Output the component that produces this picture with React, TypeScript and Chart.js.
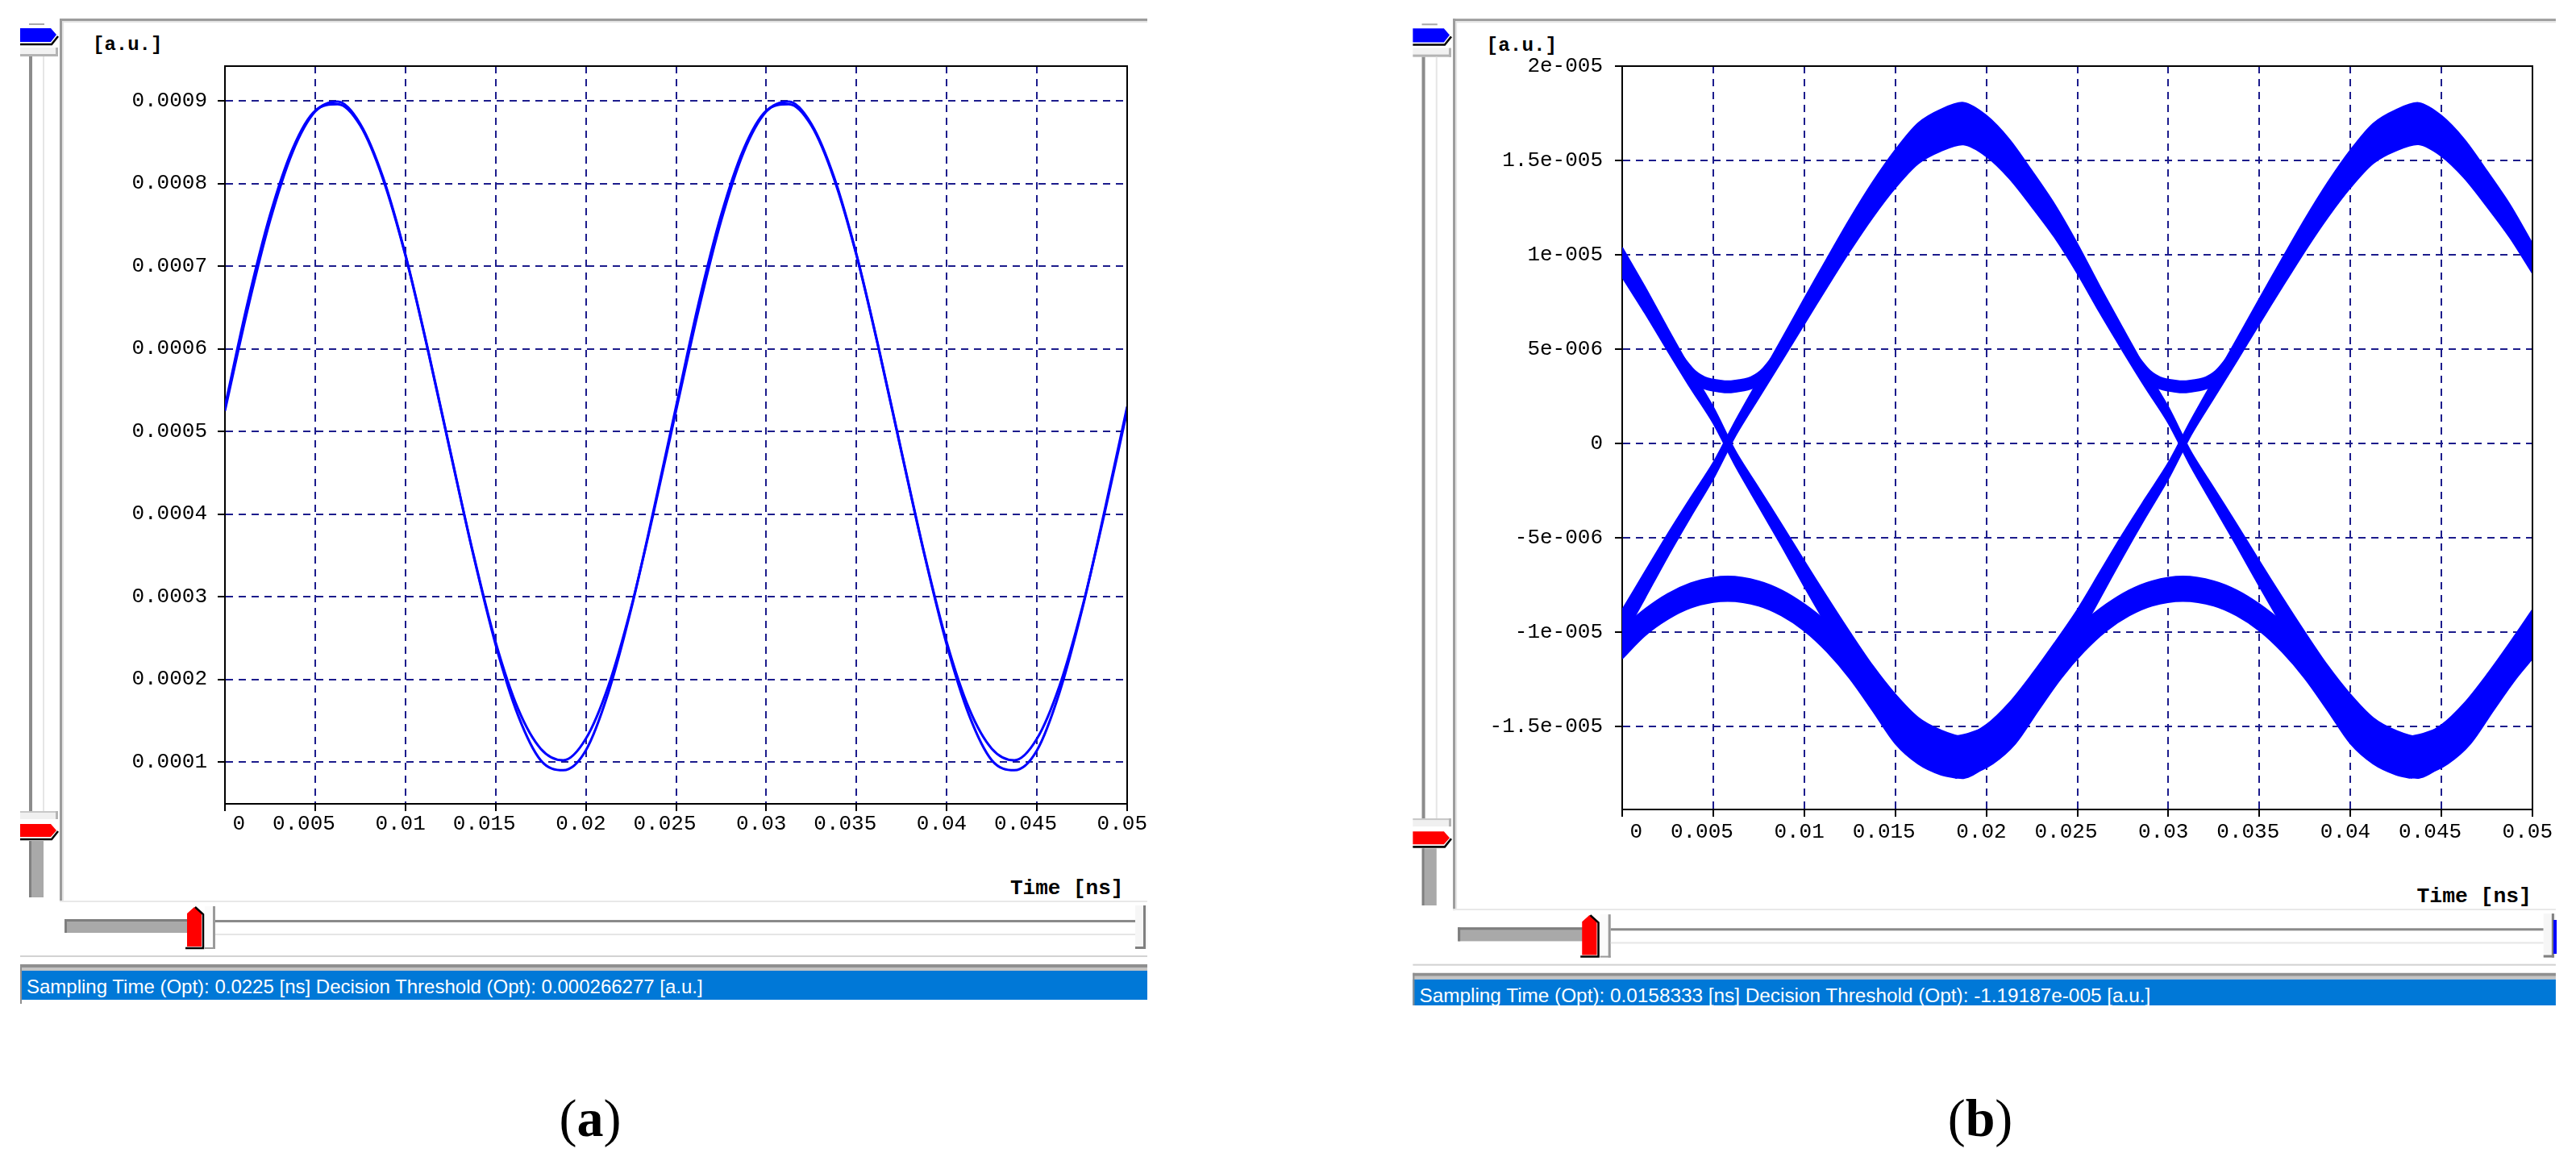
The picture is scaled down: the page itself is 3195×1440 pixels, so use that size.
import React, { useEffect, useRef } from 'react';
import { Chart, registerables } from 'chart.js';

Chart.register(...registerables);

// ---------- shared x axis ----------
const xTicks = [0, 0.005, 0.01, 0.015, 0.02, 0.025, 0.03, 0.035, 0.04, 0.045, 0.05];
const xTickLabels = ['0', '0.005', '0.01', '0.015', '0.02', '0.025', '0.03', '0.035', '0.04', '0.045', '0.05'];

// ---------- panel (a) ----------
const timeA = [0, 0.00125, 0.0025, 0.00375, 0.005, 0.00625, 0.0075, 0.00875, 0.01, 0.01125, 0.0125, 0.01375, 0.015, 0.01625, 0.0175, 0.01875, 0.02, 0.02125, 0.0225, 0.02375, 0.025, 0.02625, 0.0275, 0.02875, 0.03, 0.03125, 0.0325, 0.03375, 0.035, 0.03625, 0.0375, 0.03875, 0.04, 0.04125, 0.0425, 0.04375, 0.045, 0.04625, 0.0475, 0.04875, 0.05];
const traceA1 = [0.000525, 0.000647, 0.000755, 0.000838, 0.000887, 0.000899, 0.000872, 0.000808, 0.000714, 0.000599, 0.000475, 0.000353, 0.000245, 0.000164, 0.000116, 0.000102, 0.000128, 0.000192, 0.000286, 0.000401, 0.000525, 0.000647, 0.000755, 0.000838, 0.000887, 0.000899, 0.000872, 0.000808, 0.000714, 0.000599, 0.000475, 0.000353, 0.000245, 0.000164, 0.000116, 0.000102, 0.000128, 0.000192, 0.000286, 0.000401, 0.000525];
const traceA2 = [0.00053, 0.000655, 0.000762, 0.000842, 0.000888, 0.000896, 0.00087, 0.000806, 0.000713, 0.000598, 0.000474, 0.000352, 0.000242, 0.000156, 0.000102, 0.00009, 0.000114, 0.000184, 0.000284, 0.000404, 0.00053, 0.000655, 0.000762, 0.000842, 0.000888, 0.000896, 0.00087, 0.000806, 0.000713, 0.000598, 0.000474, 0.000352, 0.000242, 0.000156, 0.000102, 0.00009, 0.000114, 0.000184, 0.000284, 0.000404, 0.00053];
const yTicksA = [0.0001, 0.0002, 0.0003, 0.0004, 0.0005, 0.0006, 0.0007, 0.0008, 0.0009];
const yTickLabelsA = ['0.0001', '0.0002', '0.0003', '0.0004', '0.0005', '0.0006', '0.0007', '0.0008', '0.0009'];
const yRangeA = [0.0000493, 0.000942];

// ---------- panel (b) ----------
const timeB = [0, 0.00125, 0.0025, 0.00375, 0.005, 0.00625, 0.0075, 0.00875, 0.01, 0.01125, 0.0125, 0.01375, 0.015, 0.01625, 0.0175, 0.01875, 0.02, 0.02125, 0.0225, 0.02375, 0.025, 0.02625, 0.0275, 0.02875, 0.03, 0.03125, 0.0325, 0.03375, 0.035, 0.03625, 0.0375, 0.03875, 0.04, 0.04125, 0.0425, 0.04375, 0.045, 0.04625, 0.0475, 0.04875, 0.05];
const risingBand = [-9.6e-6, -7.5e-6, -5.4e-6, -3.4e-6, -1.45e-6, 0.85e-6, 2.9e-6, 4.93e-6, 7.0e-6, 9.04e-6, 11.04e-6, 12.9e-6, 14.55e-6, 15.9e-6, 16.6e-6, 16.95e-6, 16.3e-6, 15.1e-6, 13.5e-6, 11.8e-6, 9.8e-6, 7.6e-6, 5.5e-6, 3.45e-6, 1.5e-6, -0.85e-6, -2.85e-6, -4.85e-6, -6.9e-6, -8.9e-6, -10.85e-6, -12.7e-6, -14.3e-6, -15.6e-6, -16.3e-6, -16.63e-6, -16.0e-6, -14.8e-6, -13.2e-6, -11.45e-6, -9.6e-6];
const fallingBand = [9.6e-6, 7.6e-6, 5.5e-6, 3.45e-6, 1.5e-6, -0.85e-6, -2.85e-6, -4.85e-6, -6.9e-6, -8.9e-6, -10.85e-6, -12.7e-6, -14.3e-6, -15.6e-6, -16.3e-6, -16.63e-6, -16.0e-6, -14.8e-6, -13.2e-6, -11.45e-6, -9.6e-6, -7.5e-6, -5.4e-6, -3.4e-6, -1.45e-6, 0.85e-6, 2.9e-6, 4.93e-6, 7.0e-6, 9.04e-6, 11.04e-6, 12.9e-6, 14.55e-6, 15.9e-6, 16.6e-6, 16.95e-6, 16.3e-6, 15.1e-6, 13.5e-6, 11.8e-6, 9.8e-6];
const mainSpread = [0.78e-6, 0.69e-6, 0.59e-6, 0.5e-6, 0.42e-6, 0.39e-6, 0.48e-6, 0.57e-6, 0.67e-6, 0.76e-6, 0.85e-6, 0.93e-6, 1.0e-6, 1.07e-6, 1.1e-6, 1.11e-6, 1.08e-6, 1.03e-6, 0.95e-6, 0.87e-6, 0.78e-6, 0.69e-6, 0.6e-6, 0.5e-6, 0.42e-6, 0.39e-6, 0.48e-6, 0.57e-6, 0.66e-6, 0.75e-6, 0.84e-6, 0.92e-6, 0.99e-6, 1.05e-6, 1.08e-6, 1.1e-6, 1.07e-6, 1.02e-6, 0.94e-6, 0.87e-6, 0.78e-6];

// upper "1-1" arcs above the crossings
const arcTimes1 = [0.0033, 0.004, 0.0047, 0.0053, 0.0058, 0.0063, 0.0069, 0.0076, 0.0083];
const arcTimes2 = [0.0283, 0.029, 0.0297, 0.0303, 0.0308, 0.0313, 0.0319, 0.0326, 0.0333];
const arcValues = [4.2e-6, 3.5e-6, 3.15e-6, 3.05e-6, 3.0e-6, 3.05e-6, 3.15e-6, 3.5e-6, 4.2e-6];
const arcSpread = [0.45e-6, 0.35e-6, 0.3e-6, 0.3e-6, 0.3e-6, 0.3e-6, 0.3e-6, 0.35e-6, 0.45e-6];

// lower "0-0" humps below the crossings
const humpTimes1 = [0, 0.00125, 0.0025, 0.00375, 0.005, 0.0058, 0.0075, 0.00875, 0.01, 0.01125, 0.0125, 0.01375, 0.015, 0.01625, 0.0175, 0.0184];
const humpValues1 = [-10.6e-6, -9.48e-6, -8.64e-6, -8.06e-6, -7.76e-6, -7.7e-6, -7.95e-6, -8.45e-6, -9.22e-6, -10.26e-6, -11.6e-6, -13.2e-6, -14.9e-6, -15.9e-6, -16.45e-6, -16.63e-6];
const humpSpread1 = [0.8e-6, 0.7e-6, 0.67e-6, 0.65e-6, 0.65e-6, 0.65e-6, 0.65e-6, 0.67e-6, 0.7e-6, 0.78e-6, 0.85e-6, 0.95e-6, 1.0e-6, 1.07e-6, 1.1e-6, 1.1e-6];
const humpTimes2 = [0.0183, 0.0191, 0.02035, 0.0216, 0.02285, 0.0241, 0.02535, 0.0266, 0.02785, 0.0291, 0.0308, 0.0325, 0.03375, 0.035, 0.03625, 0.0375, 0.03875, 0.04, 0.04125, 0.0425, 0.0433];
const humpValues2 = [-16.63e-6, -16.45e-6, -15.9e-6, -14.9e-6, -13.2e-6, -11.6e-6, -10.26e-6, -9.22e-6, -8.45e-6, -7.95e-6, -7.7e-6, -7.95e-6, -8.45e-6, -9.22e-6, -10.26e-6, -11.6e-6, -13.2e-6, -14.9e-6, -15.9e-6, -16.45e-6, -16.63e-6];
const humpSpread2 = [1.1e-6, 1.1e-6, 1.07e-6, 1.0e-6, 0.95e-6, 0.85e-6, 0.78e-6, 0.7e-6, 0.67e-6, 0.65e-6, 0.65e-6, 0.65e-6, 0.67e-6, 0.7e-6, 0.78e-6, 0.85e-6, 0.95e-6, 1.0e-6, 1.07e-6, 1.1e-6, 1.1e-6];
const humpTimes3 = [0.0433, 0.0441, 0.04535, 0.0466, 0.04785, 0.0491, 0.05];
const humpValues3 = [-16.63e-6, -16.45e-6, -15.9e-6, -14.9e-6, -13.2e-6, -11.6e-6, -10.6e-6];
const humpSpread3 = [1.1e-6, 1.1e-6, 1.07e-6, 1.0e-6, 0.95e-6, 0.85e-6, 0.8e-6];

const yTicksB = [-1.5e-5, -1e-5, -5e-6, 0, 5e-6, 1e-5, 1.5e-5, 2e-5];
const yTickLabelsB = ['-1.5e-005', '-1e-005', '-5e-006', '0', '5e-006', '1e-005', '1.5e-005', '2e-005'];
const yRangeB = [-1.94e-5, 2e-5];

const statusA = 'Sampling Time (Opt): 0.0225 [ns] Decision Threshold (Opt): 0.000266277 [a.u.]';
const statusB = 'Sampling Time (Opt): 0.0158333 [ns] Decision Threshold (Opt): -1.19187e-005 [a.u.]';

// ---------- styling ----------
const BLUE = '#0000ff';
const GRID = '#1c1c8c';
const MONO = "'Liberation Mono', 'DejaVu Sans Mono', monospace";

const framePlugin = {
  id: 'frameBox',
  afterDraw(chart: any) {
    const { ctx, chartArea: a } = chart;
    ctx.save();
    ctx.strokeStyle = '#000';
    ctx.lineWidth = 2;
    ctx.beginPath();
    ctx.moveTo(a.left, a.top);
    ctx.lineTo(a.right, a.top);
    ctx.lineTo(a.right, a.bottom);
    ctx.stroke();
    ctx.restore();
  },
};

const gridOpts = { color: GRID, lineWidth: 2, tickColor: '#000', tickWidth: 2, tickLength: 9, tickBorderDash: [] };
const borderOpts = { color: '#000', width: 2, dash: [9, 7] };
const tickFont = { family: MONO, size: 26, weight: 'normal' };

function xScale(pad: number, height: number) {
  return {
    type: 'linear',
    min: xTicks[0],
    max: xTicks[xTicks.length - 1],
    afterBuildTicks: (s: any) => {
      s.ticks = xTicks.map((v) => ({ value: v }));
    },
    afterFit: (s: any) => {
      s.height = height;
    },
    ticks: {
      autoSkip: false,
      maxRotation: 0,
      minRotation: 0,
      padding: pad,
      align: 'end',
      labelOffset: 25,
      color: '#000',
      font: tickFont,
      callback: (_v: any, i: number) => xTickLabels[i],
    },
    grid: gridOpts,
    border: borderOpts,
  };
}

function yScale(range: number[], tv: number[], tl: string[], width: number, pad: number) {
  return {
    type: 'linear',
    min: range[0],
    max: range[1],
    afterBuildTicks: (s: any) => {
      s.ticks = tv.map((v) => ({ value: v }));
    },
    afterFit: (s: any) => {
      s.width = width;
    },
    ticks: {
      padding: pad,
      color: '#000',
      font: tickFont,
      callback: (_v: any, i: number) => tl[i],
    },
    grid: gridOpts,
    border: borderOpts,
  };
}

function line(times: number[], values: number[]) {
  return {
    data: times.map((t, i) => ({ x: t, y: values[i] })),
    borderColor: BLUE,
    borderWidth: 3,
    pointRadius: 0,
    fill: false,
    cubicInterpolationMode: 'monotone',
  };
}

function band(times: number[], centre: number[], spread: number[], smooth: boolean) {
  const curve = smooth ? { tension: 0.3, cubicInterpolationMode: 'default' } : { cubicInterpolationMode: 'monotone' };
  return [
    {
      data: times.map((t, i) => ({ x: t, y: centre[i] - spread[i] })),
      borderColor: BLUE,
      borderWidth: 2,
      pointRadius: 0,
      fill: false,
      ...curve,
    },
    {
      data: times.map((t, i) => ({ x: t, y: centre[i] + spread[i] })),
      borderColor: BLUE,
      borderWidth: 2,
      pointRadius: 0,
      fill: '-1',
      backgroundColor: BLUE,
      ...curve,
    },
  ];
}

function baseOptions(padRight: number) {
  return {
    responsive: false,
    animation: false,
    devicePixelRatio: 1,
    events: [],
    layout: { padding: { top: 42, right: padRight, left: 0, bottom: 0 } },
    plugins: { legend: { display: false }, tooltip: { enabled: false } },
  };
}

function configA(): any {
  return {
    type: 'line',
    data: { datasets: [line(timeA, traceA1), line(timeA, traceA2)] },
    options: {
      ...baseOptions(42),
      scales: { x: xScale(1, 83), y: yScale(yRangeA, yTicksA, yTickLabelsA, 189, 13) },
    },
    plugins: [framePlugin],
  };
}

function configB(): any {
  const datasets = [
    ...band(humpTimes1, humpValues1, humpSpread1, false),
    ...band(humpTimes2, humpValues2, humpSpread2, false),
    ...band(humpTimes3, humpValues3, humpSpread3, false),
    ...band(arcTimes1, arcValues, arcSpread, false),
    ...band(arcTimes2, arcValues, arcSpread, false),
    ...band(timeB, fallingBand, mainSpread, true),
    ...band(timeB, risingBand, mainSpread, true),
  ];
  return {
    type: 'line',
    data: { datasets },
    options: {
      ...baseOptions(39),
      scales: { x: xScale(4, 83), y: yScale(yRangeB, yTicksB, yTickLabelsB, 182, 15) },
    },
    plugins: [framePlugin],
  };
}

function ChartCanvas(props: { left: number; top: number; width: number; height: number; make: () => any }) {
  const ref = useRef<HTMLCanvasElement>(null);
  useEffect(() => {
    const chart = new Chart(ref.current as HTMLCanvasElement, props.make());
    return () => chart.destroy();
  }, []);
  return (
    <canvas
      ref={ref}
      width={props.width}
      height={props.height}
      style={{ position: 'absolute', left: props.left, top: props.top, width: props.width, height: props.height }}
    />
  );
}

function PanelChrome({ status }: { status: string }) {
  return (
    <g>
      {/* frame */}
      <rect x={74} y={23} width={1349} height={3} fill="#9c9c9c" />
      <rect x={77} y={26} width={1346} height={2} fill="#e4e4e4" />
      <rect x={74} y={23} width={3} height={1096} fill="#9c9c9c" />
      <rect x={77} y={26} width={2} height={1092} fill="#e4e4e4" />
      <rect x={74} y={1117} width={1349} height={2} fill="#e8e8e8" />
      {/* vertical slider */}
      <rect x={36} y={29} width={19} height={2} fill="#a8a8a8" />
      <polygon points="25,35 63,35 70,43 63,52 25,52" fill="#0000ff" />
      <polyline points="25,55 64,55 72,45" fill="none" stroke="#000" strokeWidth={2.5} />
      <rect x={25} y={59} width={47} height={9} fill="#f2f2f2" />
      <rect x={25} y={67} width={47} height={3} fill="#b4b4b4" />
      <rect x={69} y={59} width={3} height={11} fill="#b4b4b4" />
      <rect x={36} y={70} width={4} height={937} fill="#8c8c8c" />
      <rect x={53} y={70} width={2} height={937} fill="#e6e6e6" />
      <rect x={25} y={1006} width={47} height={10} fill="#f0f0f0" />
      <rect x={25} y={1006} width={47} height={2} fill="#c8c8c8" />
      <rect x={69} y={1006} width={3} height={10} fill="#b4b4b4" />
      <polygon points="25,1022 63,1022 70,1030 63,1038 25,1038" fill="#ff0000" />
      <polyline points="25,1041 64,1041 72,1031" fill="none" stroke="#000" strokeWidth={2.5} />
      <rect x={37} y={1043} width={17} height={70} fill="#a9a9a9" />
      <rect x={36} y={1043} width={3} height={70} fill="#808080" />
      {/* axis unit labels */}
      <text x={115} y={62} fontFamily={MONO} fontWeight="bold" fontSize={24} fill="#000">[a.u.]</text>
      <text x={1253} y={1109} fontFamily={MONO} fontWeight="bold" fontSize={26} fill="#000">Time [ns]</text>
      {/* horizontal slider */}
      <rect x={80} y={1140} width={153} height={17} fill="#a9a9a9" />
      <rect x={80} y={1140} width={153} height={3} fill="#7e7e7e" />
      <rect x={80} y={1140} width={3} height={17} fill="#7e7e7e" />
      <polygon points="232,1174 232,1133 241,1125 250,1133 250,1174" fill="#ff0000" />
      <polyline points="242,1125 252,1134 252,1176 230,1176" fill="none" stroke="#000" strokeWidth={2.5} />
      <rect x={254} y={1124} width={13} height={53} fill="#fbfbfb" />
      <rect x={264} y={1124} width={3} height={53} fill="#9a9a9a" />
      <rect x={254} y={1175} width={13} height={2} fill="#9a9a9a" />
      <rect x={267} y={1141} width={1141} height={3} fill="#8a8a8a" />
      <rect x={267} y={1158} width={1141} height={2} fill="#e6e6e6" />
      <rect x={1408} y={1123} width={15} height={54} fill="#f6f6f6" />
      <rect x={1418} y={1123} width={3} height={54} fill="#808080" />
      <rect x={1408} y={1174} width={13} height={3} fill="#808080" />
      <rect x={25} y={1185} width={1398} height={2} fill="#d2d2d2" />
      {/* status bar */}
      <rect x={25} y={1196} width={1398} height={4} fill="#8f8f8f" />
      <rect x={25} y={1200} width={1398} height={4} fill="#c4c4c4" />
      <rect x={25} y={1204} width={1398} height={36} fill="#0078d7" />
      <rect x={25} y={1196} width={2} height={49} fill="#8f8f8f" />
      <text x={33} y={1232} fill="#ffffff" fontFamily="'Liberation Sans', Arial, sans-serif" fontSize={24}>
        {status}
      </text>
    </g>
  );
}

export default function App() {
  return (
    <div style={{ position: 'absolute', left: 0, top: 0, width: 3195, height: 1440, background: '#fff', overflow: 'hidden' }}>
      <svg width={3195} height={1440} style={{ position: 'absolute', left: 0, top: 0 }}>
        <PanelChrome status={statusA} />
        <g transform="translate(1727 0) scale(1.014 1.009)">
          <PanelChrome status={statusB} />
        </g>
        <rect x={3167} y={1141} width={4} height={42} fill="#0000ff" />
        <rect x={1740} y={1247} width={1455} height={20} fill="#ffffff" />
        <text x={732} y={1409} textAnchor="middle" fontFamily="'Liberation Serif', serif" fontSize={66} fill="#000">
          (<tspan fontWeight="bold">a</tspan>)
        </text>
        <text x={2456} y={1409} textAnchor="middle" fontFamily="'Liberation Serif', serif" fontSize={66} fill="#000">
          (<tspan fontWeight="bold">b</tspan>)
        </text>
      </svg>
      <ChartCanvas left={90} top={40} width={1350} height={1040} make={configA} />
      <ChartCanvas left={1830} top={40} width={1350} height={1047} make={configB} />
    </div>
  );
}
